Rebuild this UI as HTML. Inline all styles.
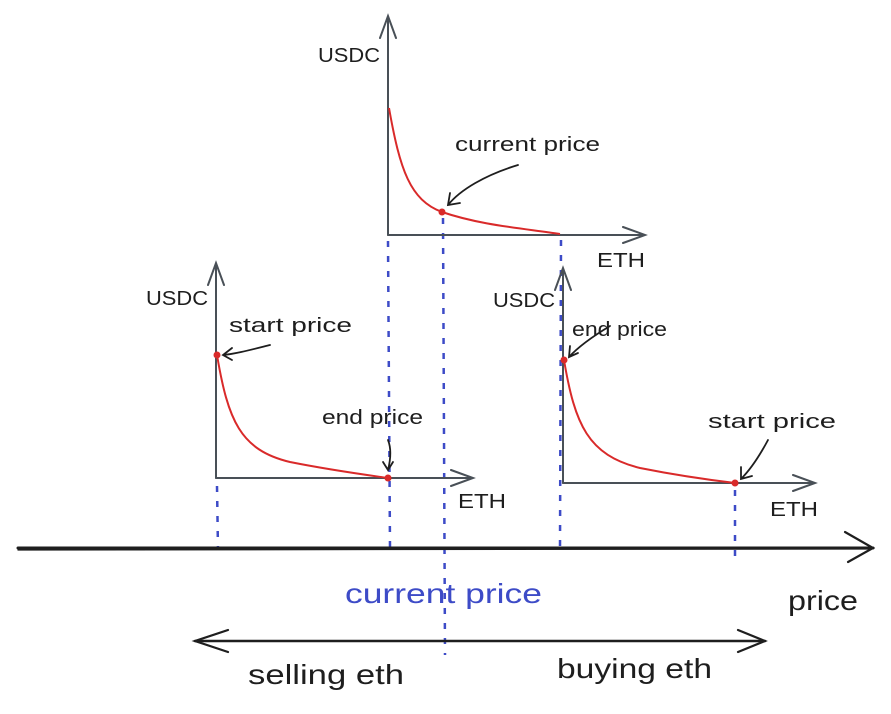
<!DOCTYPE html>
<html><head><meta charset="utf-8"><style>
html,body{margin:0;padding:0;background:#fff;width:891px;height:714px;overflow:hidden}
text{font-family:"Liberation Sans",sans-serif}
</style></head><body>
<svg width="891" height="714" viewBox="0 0 891 714" xmlns="http://www.w3.org/2000/svg">
<g fill="none" stroke="#3d4bc7" stroke-width="2.5" stroke-dasharray="6,9">
<line x1="388" y1="241" x2="390" y2="548"/>
<line x1="443" y1="218" x2="445" y2="655"/>
<line x1="561" y1="240" x2="560" y2="548"/>
<line x1="217" y1="486" x2="218" y2="550"/>
<line x1="735" y1="490" x2="735" y2="558"/>
</g>
<g fill="none" stroke="#495057" stroke-width="2" stroke-linecap="round">
<path d="M388 235 L388 16 M380 38 L388 16 L396 38"/>
<path d="M388 235 L645 235 M623 227 L645 235 L623 243"/>
<path d="M216 478 L216 263 M208 285 L216 263 L224 285"/>
<path d="M216 478 L473 478 M451 470 L473 478 L451 486"/>
<path d="M563 483 L563 268 M555 290 L563 268 L571 290"/>
<path d="M563 483 L815 483 M793 475 L815 483 L793 491"/>
</g>
<g fill="none" stroke="#d92a2a" stroke-width="2">
<path d="M389 108 C400 170 410 200 442 212 C480 225 520 228 560 234"/>
<path d="M217 355 C228 420 240 450 290 462 C330 470 360 474 388 478"/>
<path d="M564 360 C575 425 588 455 640 468 C680 476 710 480 735 483"/>
</g>
<g fill="#d92a2a"><circle cx="442" cy="212" r="3.5"/><circle cx="217" cy="355" r="3.5"/><circle cx="388" cy="478" r="3.5"/><circle cx="564" cy="360" r="3.5"/><circle cx="735" cy="483" r="3.5"/></g>
<g fill="none" stroke="#1e1e1e" stroke-width="1.8" stroke-linecap="round">
<path d="M518 165 C485 175 460 190 448 205 M450 193 L448 205 L460 203"/>
<path d="M270 345 C250 350 235 354 223 355 M232 348 L223 355 L232 360"/>
<path d="M388 440 C392 450 390 462 388 470 M383 462 L388 470 L393 462"/>
<path d="M610 326 C595 335 580 345 569 357 M570 346 L569 357 L578 353"/>
<path d="M768 440 C760 455 752 468 741 479 M741 467 L741 479 L752 476"/>
<path d="M18 548 L873 548" stroke-width="3"/>
<path d="M18 550 L870 549" stroke-width="1.2"/>
<path d="M845 532 L873 548 L848 562" stroke-width="2.2"/>
<path d="M195 641 L765 641" stroke-width="2.5"/>
<path d="M228 630 L195 641 L228 652" stroke-width="2.2"/>
<path d="M738 630 L765 641 L738 652" stroke-width="2.2"/>
</g>
<g fill="#1e1e1e" font-size="20" lengthAdjust="spacingAndGlyphs">
<text x="318" y="62" textLength="62" lengthAdjust="spacingAndGlyphs">USDC</text>
<text x="455" y="151" textLength="145" lengthAdjust="spacingAndGlyphs">current price</text>
<text x="597" y="267" textLength="48" lengthAdjust="spacingAndGlyphs">ETH</text>
<text x="146" y="305" textLength="62" lengthAdjust="spacingAndGlyphs">USDC</text>
<text x="229" y="332" textLength="123" lengthAdjust="spacingAndGlyphs">start price</text>
<text x="322" y="424" textLength="101" lengthAdjust="spacingAndGlyphs">end price</text>
<text x="458" y="508" textLength="48" lengthAdjust="spacingAndGlyphs">ETH</text>
<text x="493" y="307" textLength="62" lengthAdjust="spacingAndGlyphs">USDC</text>
<text x="572" y="336" textLength="95" lengthAdjust="spacingAndGlyphs">end price</text>
<text x="708" y="428" textLength="128" lengthAdjust="spacingAndGlyphs">start price</text>
<text x="770" y="516" textLength="48" lengthAdjust="spacingAndGlyphs">ETH</text>
<text x="788" y="610" font-size="28" textLength="70" lengthAdjust="spacingAndGlyphs">price</text>
<text x="248" y="684" font-size="28" textLength="156" lengthAdjust="spacingAndGlyphs">selling eth</text>
<text x="557" y="678" font-size="28" textLength="155" lengthAdjust="spacingAndGlyphs">buying eth</text>
</g>
<text x="345" y="603" font-size="28" fill="#3d4bc7" textLength="197" lengthAdjust="spacingAndGlyphs">current price</text>
</svg>
</body></html>
